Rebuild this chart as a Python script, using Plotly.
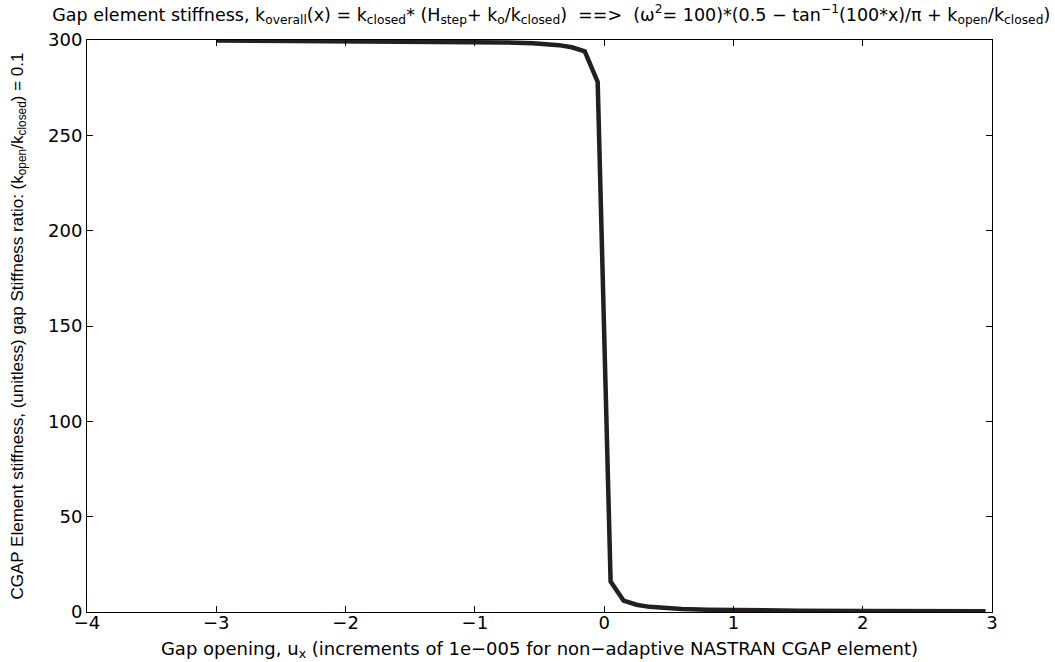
import plotly.graph_objects as go

gap_opening = [-3.0, -2.5, -2.0, -1.5, -1.0, -0.75, -0.55, -0.45, -0.35, -0.25, -0.15, -0.05,
               0.05, 0.15, 0.25, 0.35, 0.45, 0.6, 0.8, 1.0, 1.5, 2.0, 2.5, 2.95]
stiffness = [299.7, 299.6, 299.5, 299.4, 299.0, 298.7, 298.3, 297.9, 297.3, 296.2, 294.0, 278.0,
             16.0, 6.0, 3.8, 2.7, 2.1, 1.6, 1.2, 0.95, 0.65, 0.5, 0.4, 0.33]

x_ticks = [-4, -3, -2, -1, 0, 1, 2, 3]
y_ticks = [0, 50, 100, 150, 200, 250, 300]

title_text = ("Gap element stiffness, k<sub>overall</sub>(x) = k<sub>closed</sub>* "
              "(H<sub>step</sub>+ k<sub>o</sub>/k<sub>closed</sub>)  ==>  "
              "(ω<sup>2</sup>= 100)*(0.5 − tan<sup>−1</sup>(100*x)/π + k<sub>open</sub>/k<sub>closed</sub>)")
x_title = "Gap opening, u<sub>x</sub> (increments of 1e−005 for non−adaptive NASTRAN CGAP element)"
y_title = "CGAP Element stiffness, (unitless) gap Stiffness ratio: (k<sub>open</sub>/k<sub>closed</sub>) = 0.1"

wide_font = "DejaVu Sans, Liberation Sans, sans-serif"
narrow_font = "Liberation Sans, Arial, sans-serif"

fig = go.Figure()
fig.add_trace(go.Scatter(x=gap_opening, y=stiffness, mode="lines",
                         line=dict(color="#231f20", width=4.5), showlegend=False))

axis_common = dict(showline=True, linecolor="black", linewidth=1, mirror="ticks",
                   ticks="inside", ticklen=6, tickcolor="black", tickwidth=1,
                   showgrid=False, zeroline=False, automargin=False,
                   tickfont=dict(family=wide_font, size=18, color="black"))

fig.update_xaxes(range=[-4, 3], tickvals=x_ticks, ticklabelstandoff=-6, **axis_common,
                 title=dict(text=x_title, font=dict(family=wide_font, size=18, color="black"), standoff=10))
fig.update_yaxes(range=[0, 300], tickvals=y_ticks, **axis_common,
                 title=dict(text=y_title, font=dict(family=narrow_font, size=17, color="black"), standoff=20))

fig.update_layout(
    width=1055, height=662,
    margin=dict(l=87, r=63, t=40, b=50),
    paper_bgcolor="white", plot_bgcolor="white",
    title=dict(text=title_text, x=0.513, xref="paper", xanchor="center", y=0.978, yref="container",
               yanchor="middle", automargin=False,
               font=dict(family=wide_font, size=17.5, color="black")),
)

fig.write_html("out.html", config={"displayModeBar": False},
               post_script="document.body.style.margin='0';")
